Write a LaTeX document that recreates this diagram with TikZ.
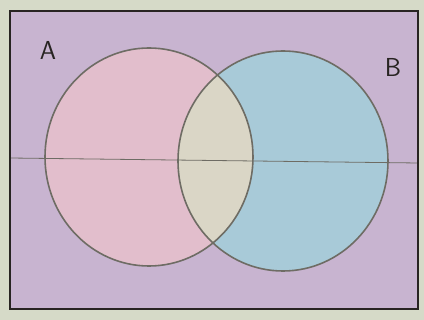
\documentclass[tikz,border=0pt]{standalone}
\usetikzlibrary{calc}
\definecolor{paper}{RGB}{214,218,200}
\definecolor{lav}{RGB}{200,180,208}
\definecolor{pinkA}{RGB}{226,190,204}
\definecolor{blueB}{RGB}{168,202,216}
\definecolor{cream}{RGB}{218,214,198}
\definecolor{pencil}{RGB}{110,108,100}
\definecolor{ink}{RGB}{40,36,34}
\tikzset{
  circ/.style={draw=pencil, line width=1.6pt},
  frame/.style={draw=ink, line width=2.2pt},
  lbl/.style={font=\sffamily\fontsize{26}{26}\selectfont, text=ink, inner sep=0pt}
}
\begin{document}
\begin{tikzpicture}[x=1pt,y=-1pt]
\useasboundingbox (0,0) rectangle (424,320);
\fill[paper] (0,0) rectangle (424,320);
\coordinate (tl) at (10,11);
\coordinate (br) at (418,309);
\fill[lav] (tl) rectangle (br);
\coordinate (ca) at (149,157);
\coordinate (cb) at (283,161);
\fill[pinkA] (ca) ellipse [x radius=104, y radius=109];
\fill[blueB] (cb) ellipse [x radius=105, y radius=110];
\begin{scope}
\clip (ca) ellipse [x radius=104, y radius=109];
\fill[cream] (cb) ellipse [x radius=105, y radius=110];
\end{scope}
\coordinate (l1) at (10,158);
\coordinate (l2) at (418,163);
\draw[pencil, line width=0.8pt] (l1) -- (l2);
\draw[circ] (ca) ellipse [x radius=104, y radius=109];
\draw[circ] (cb) ellipse [x radius=105, y radius=110];
\draw[frame] (tl) rectangle (br);
\node[lbl] (A) at (48,50) {A};
\node[lbl] (B) at (393,67) {B};
\end{tikzpicture}
\end{document}
